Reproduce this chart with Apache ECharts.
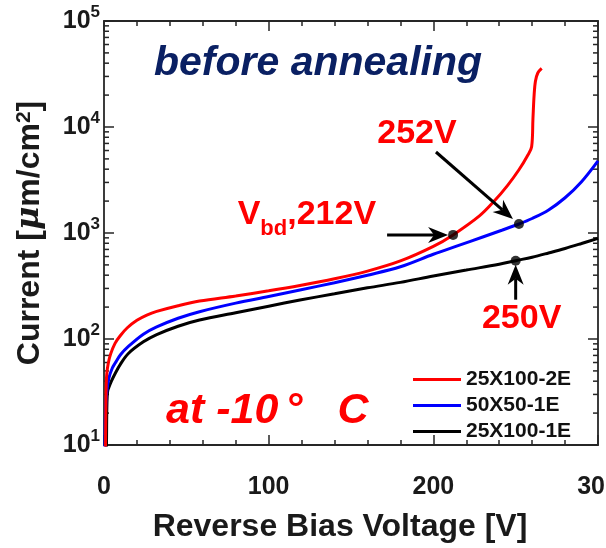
<!DOCTYPE html>
<html>
<head>
<meta charset="utf-8">
<script src="https://cdn.jsdelivr.net/npm/echarts@6/dist/echarts.min.js"></script>
<style>
  html, body { margin: 0; padding: 0; background: #fff; }
  #chart { width: 606px; height: 548px; }
</style>
</head>
<body>
<div id="chart"></div>
<script>
// Leakage current density vs reverse bias, three sensor layouts at -10 C
const seriesNames = ['25X100-2E', '50X50-1E', '25X100-1E'];

const voltRed = [0.8, 1.1, 1.3, 1.7, 2.6, 4, 6.7, 10, 14, 20, 26, 32, 45, 58, 80, 100, 119, 140, 160, 180, 200, 212, 228, 237, 245, 252, 257, 259.7, 260.5, 261.2, 262, 263.5, 265.8];
const curRed  = [5, 20, 35, 47, 59, 72, 91, 108, 127, 150, 168, 182, 206, 228, 255, 285, 320, 370, 437, 545, 748, 960, 1450, 2000, 2800, 3950, 5300, 6520, 12000, 20000, 27000, 32500, 35800];

const voltBlue = [0.4, 0.7, 1.0, 1.6, 3.0, 5.0, 6.7, 10, 14.8, 23.9, 32, 45, 58, 80, 100, 119, 140, 160, 180, 200, 215, 230, 242, 252, 260, 270, 280, 290, 300];
const curBlue  = [5, 14, 22, 31, 43, 53, 59, 71, 85, 111, 130, 157, 181, 218, 252, 290, 340, 400, 480, 630, 760, 917, 1067, 1216, 1370, 1650, 2150, 3050, 4800];

const voltBlack = [1.4, 1.6, 1.8, 2.2, 3.0, 4.5, 6.7, 10, 14.8, 23.9, 32, 45, 58, 80, 100, 119, 140, 160, 180, 200, 220, 240, 250, 260, 270, 280, 290, 300];
const curBlack  = [5, 15, 25, 32, 35, 40, 47, 58, 73, 94, 110, 132, 151, 177, 204, 233, 267, 304, 342, 393, 447, 507, 548, 591, 648, 714, 796, 891];

// Marked voltages: red breakdown, blue and black reference points
const markVolts = [212, 252, 250];
const markLabels = ['212V', '252V', '250V'];

const xTicks = [0, 100, 200, 300];
const yDecades = [10, 100, 1000, 10000, 100000];

const colors = ['#ff0000', '#0000ff', '#000000'];
const axisColor = '#262626';
const font = 'Liberation Sans, Arial, Helvetica, sans-serif';

function pairs(v, c) { return v.map((x, i) => [x, c[i]]); }
const curves = [pairs(voltRed, curRed), pairs(voltBlue, curBlue), pairs(voltBlack, curBlack)];

// dots sit on their curve at the labelled voltage
const markPts = markVolts.map((v, i) => curves[i].find(p => p[0] === v));

// minor ticks of the log axis (2..9 within each decade)
const minorLog = [];
for (let k = 0; k < yDecades.length - 1; k++) {
  for (let m = 2; m <= 9; m++) minorLog.push([0, m * yDecades[k]]);
}

const chart = echarts.init(document.getElementById('chart'), null, { renderer: 'canvas' });

const tickStyle = { color: axisColor, width: 1.5 };
const baseX = {
  type: 'value', min: 0, max: 300, interval: 100,
  axisLine: { show: true, onZero: false, lineStyle: { color: axisColor, width: 1.8 } },
  axisTick: { show: true, inside: true, length: 10, lineStyle: tickStyle },
  minorTick: { show: true, splitNumber: 5, length: 5, lineStyle: tickStyle },
  splitLine: { show: false }
};
const baseY = {
  type: 'log', logBase: 10, min: 10, max: 100000,
  axisLine: { show: true, onZero: false, lineStyle: { color: axisColor, width: 1.8 } },
  axisTick: { show: true, inside: true, length: 10, lineStyle: tickStyle },
  splitLine: { show: false }
};

const option = {
  animation: false,
  backgroundColor: '#fff',
  grid: { left: 104, right: 8, top: 21, bottom: 103, containLabel: false, outerBoundsMode: 'none' },
  xAxis: [
    Object.assign({}, baseX, {
      position: 'bottom',
      axisLabel: {
        margin: 30, fontSize: 25, fontWeight: 'bold', fontFamily: font, color: '#1a1a1a',
        formatter: v => (xTicks.indexOf(v) >= 0 ? String(v) : '')
      },
      name: 'Reverse Bias Voltage [V]', nameLocation: 'middle', nameGap: 66,
      nameTextStyle: { fontSize: 32, fontWeight: 'bold', fontFamily: font, color: '#1a1a1a', padding: [0, 22, 0, 0] }
    }),
    Object.assign({}, baseX, { position: 'top', axisLabel: { show: false } })
  ],
  yAxis: [
    Object.assign({}, baseY, {
      position: 'left',
      axisLabel: {
        margin: 4, fontFamily: font, color: '#1a1a1a',
        formatter: v => '{b|10}{s|' + Math.round(Math.log10(v)) + '}',
        rich: {
          b: { fontSize: 25, fontWeight: 'bold', fontFamily: font, color: '#1a1a1a', lineHeight: 34 },
          s: { fontSize: 17, fontWeight: 'bold', fontFamily: font, color: '#1a1a1a', verticalAlign: 'top', lineHeight: 20 }
        }
      },
      name: 'Current [{mu|μ}m/cm{sup|2}]', nameLocation: 'middle', nameGap: 58, nameRotate: 90,
      nameTextStyle: {
        fontSize: 32, fontWeight: 'bold', fontFamily: font, color: '#1a1a1a',
        rich: {
          mu: { fontSize: 32, fontStyle: 'italic', fontFamily: 'DejaVu Serif, serif', color: '#1a1a1a' },
          sup: { fontSize: 21, fontWeight: 'bold', fontFamily: font, color: '#1a1a1a', verticalAlign: 'top' }
        }
      }
    }),
    Object.assign({}, baseY, { position: 'right', axisLabel: { show: false } })
  ],
  legend: {
    data: seriesNames,
    orient: 'vertical', left: 408, top: 364,
    itemWidth: 48, itemHeight: 3, itemGap: 5, icon: 'rect',
    textStyle: { fontSize: 21, fontWeight: 'bold', fontFamily: font, color: '#111', lineHeight: 21 }
  },
  series: [
    ...curves.map((d, i) => ({
      name: seriesNames[i], type: 'line', data: d,
      showSymbol: false, symbol: 'none', smooth: 0.35, clip: true,
      lineStyle: { color: colors[i], width: 3 }, itemStyle: { color: colors[i] }, z: 3 - i + 2
    })),
    {
      type: 'scatter', data: markPts, symbolSize: 10, itemStyle: { color: '#000' }, z: 10, silent: true
    },
    {
      type: 'custom', data: minorLog, silent: true, z: 1,
      renderItem: (params, api) => {
        const v = api.value(1);
        const pl = api.coord([0, v]);
        const pr = api.coord([300, v]);
        return {
          type: 'group', children: [
            { type: 'line', shape: { x1: pl[0], y1: pl[1], x2: pl[0] + 5, y2: pl[1] }, style: { stroke: axisColor, lineWidth: 1.5 } },
            { type: 'line', shape: { x1: pr[0] - 5, y1: pr[1], x2: pr[0], y2: pr[1] }, style: { stroke: axisColor, lineWidth: 1.5 } }
          ]
        };
      }
    }
  ]
};
chart.setOption(option);

// Arrow with a notched head, from tail to tip (pixels)
function arrow(x1, y1, x2, y2) {
  const dx = x2 - x1, dy = y2 - y1, len = Math.hypot(dx, dy);
  const ux = dx / len, uy = dy / len, nx = -uy, ny = ux;
  const L = 20, W = 8, N = 6;
  const bx = x2 - ux * L, by = y2 - uy * L;
  const kx = x2 - ux * (L - N), ky = y2 - uy * (L - N);
  return [
    { type: 'line', shape: { x1: x1, y1: y1, x2: kx, y2: ky }, style: { stroke: '#000', lineWidth: 3 }, z: 20 },
    { type: 'polygon', shape: { points: [[x2, y2], [bx + nx * W, by + ny * W], [kx, ky], [bx - nx * W, by - ny * W]] }, style: { fill: '#000' }, z: 20 }
  ];
}

const px = markPts.map(p => chart.convertToPixel({ xAxisIndex: 0, yAxisIndex: 0 }, p));
const [pR, pB, pK] = px;
const red = '#ff0000';
const labelFont = 'bold 34px ' + font;

const graphic = [
  { type: 'text', style: { text: 'before annealing', x: 318, y: 64, textAlign: 'center', textVerticalAlign: 'middle', font: 'italic bold 41px ' + font, fill: '#0a2063' }, z: 30 },
  {
    type: 'text', z: 30,
    style: {
      text: '{a|at -10}{d|°}{c|C}', x: 166, y: 411, textAlign: 'left', textVerticalAlign: 'middle',
      rich: {
        a: { font: 'italic bold 43px ' + font, fill: red },
        d: { font: 'italic bold 43px ' + font, fill: red, padding: [0, 0, 0, 7] },
        c: { font: 'italic bold 43px ' + font, fill: red, padding: [0, 0, 0, 35] }
      }
    }
  },
  // red breakdown point
  ...arrow(pR[0] - 66, pR[1], pR[0] - 5, pR[1]),
  {
    type: 'text', z: 30,
    style: {
      text: '{v|V}{s|bd}{v|,' + markLabels[0] + '}', x: pR[0] - 77, y: pR[1] + 5, textAlign: 'right', textVerticalAlign: 'bottom',
      rich: {
        v: { font: labelFont, fill: red, lineHeight: 42, verticalAlign: 'top' },
        s: { font: 'bold 22px ' + font, fill: red, lineHeight: 42, verticalAlign: 'bottom' }
      }
    }
  },
  // blue reference point
  ...arrow(pB[0] - 83, pB[1] - 72, pB[0] - 6, pB[1] - 5),
  { type: 'text', style: { text: markLabels[1], x: pB[0] - 102, y: pB[1] - 90, textAlign: 'center', textVerticalAlign: 'middle', font: labelFont, fill: red }, z: 30 },
  // black reference point
  ...arrow(pK[0], pK[1] + 39, pK[0], pK[1] + 4),
  { type: 'text', style: { text: markLabels[2], x: pK[0] + 6, y: pK[1] + 58, textAlign: 'center', textVerticalAlign: 'middle', font: labelFont, fill: red }, z: 30 }
];
chart.setOption({ graphic: graphic });
</script>
</body>
</html>
